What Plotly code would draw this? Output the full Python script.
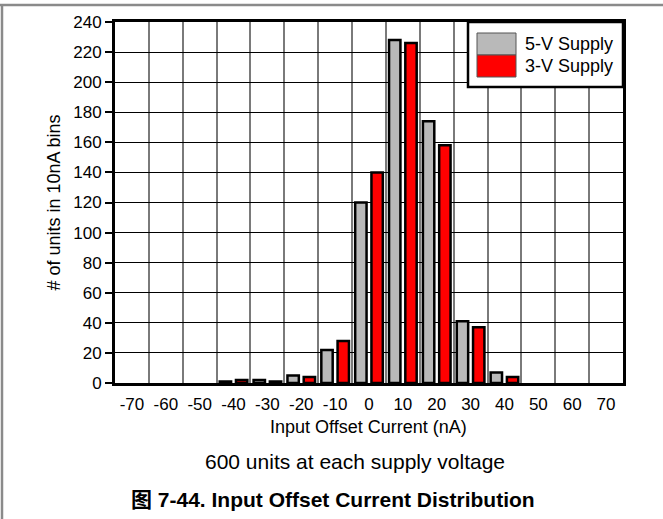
import plotly.graph_objects as go

# ---- data ----
bins_nA = [-70, -60, -50, -40, -30, -20, -10, 0, 10, 20, 30, 40, 50, 60, 70]
tick_labels = ["-70", "-60", "-50", "-40", "-30", "-20", "-10", "0", "10", "20", "30", "40", "50", "60", "70"]
supply_5v = [0, 0, 0, 1, 2, 5, 22, 120, 228, 174, 41, 7, 0, 0, 0]
supply_3v = [0, 0, 0, 2, 1, 4, 28, 140, 226, 158, 37, 4, 0, 0, 0]
series_names = ["5-V Supply", "3-V Supply"]
y_ticks = list(range(0, 241, 20))

GRAY = "#b9b9b9"
RED = "#ff0000"
FONT = "Liberation Sans, Arial, Noto Sans CJK SC, sans-serif"

# plot-area geometry in pixels (for positioning decorations)
W, H = 663, 519
L, R, T, B = 115, 623, 22, 383
PW, PH = R - L, B - T

def px(x):
    return (x - L) / PW

def py(y):
    return (B - y) / PH

half = (bins_nA[1] - bins_nA[0]) / 2
edges = [c - half for c in bins_nA] + [bins_nA[-1] + half]

def outline_widths(vals):
    return [0 if v == 0 else 2.5 for v in vals]

fig = go.Figure()
fig.add_trace(go.Bar(x=bins_nA, y=supply_5v, name=series_names[0],
                     marker=dict(color=GRAY, line=dict(color="black", width=outline_widths(supply_5v))),
                     showlegend=False))
fig.add_trace(go.Bar(x=bins_nA, y=supply_3v, name=series_names[1],
                     marker=dict(color=RED, line=dict(color="black", width=outline_widths(supply_3v))),
                     showlegend=False))

fig.update_layout(
    width=W, height=H,
    margin=dict(l=L, r=W - R, t=T, b=H - B),
    paper_bgcolor="white", plot_bgcolor="white",
    barmode="group", bargap=0.04, bargroupgap=0.3,
    font=dict(family=FONT, size=17, color="black"),
    showlegend=False,
)

fig.update_xaxes(
    range=[edges[0], edges[-1]],
    tickmode="array", tickvals=bins_nA, ticktext=tick_labels,
    showgrid=False, zeroline=False,
    showline=True, linecolor="black", linewidth=3, mirror=True,
    ticks="", ticklabelstandoff=4,
    tickfont=dict(size=17),
    minor=dict(tickmode="array", tickvals=edges, showgrid=True,
               gridcolor="#7a7a7a", gridwidth=1.5, ticks=""),
)
fig.update_yaxes(
    range=[0, 240], tickmode="array", tickvals=y_ticks,
    showgrid=True, gridcolor="black", gridwidth=1, zeroline=False,
    showline=True, linecolor="black", linewidth=3, mirror=True,
    ticks="outside", ticklen=7, tickwidth=1.5, tickcolor="black",
    tickfont=dict(size=17),
)

shapes = []
# legend box
shapes.append(dict(type="rect", xref="paper", yref="paper",
                   x0=px(468), x1=1.0, y0=py(87), y1=1.0,
                   fillcolor="white", line=dict(color="black", width=2.5), layer="above"))
shapes.append(dict(type="rect", xref="paper", yref="paper",
                   x0=px(477), x1=px(516), y0=py(55), y1=py(33),
                   fillcolor=GRAY, line=dict(color="#555555", width=1), layer="above"))
shapes.append(dict(type="rect", xref="paper", yref="paper",
                   x0=px(477), x1=px(516), y0=py(77), y1=py(55),
                   fillcolor=RED, line=dict(color="#555555", width=1), layer="above"))
# outer frame lines (top and left)
shapes.append(dict(type="line", xref="paper", yref="paper",
                   x0=px(0), x1=px(W), y0=py(5), y1=py(5),
                   line=dict(color="#8a8a8a", width=2.5), layer="above"))
shapes.append(dict(type="line", xref="paper", yref="paper",
                   x0=px(2), x1=px(2), y0=py(5), y1=py(H),
                   line=dict(color="#8a8a8a", width=2.5), layer="above"))
fig.update_layout(shapes=shapes)

ann = []
ann.append(dict(text=series_names[0], xref="paper", yref="paper", x=px(523), y=py(44),
                xanchor="left", yanchor="middle", showarrow=False, font=dict(size=18)))
ann.append(dict(text=series_names[1], xref="paper", yref="paper", x=px(523), y=py(66),
                xanchor="left", yanchor="middle", showarrow=False, font=dict(size=18)))
ann.append(dict(text="# of units in 10nA bins", xref="paper", yref="paper", x=px(53), y=0.5,
                xanchor="center", yanchor="middle", textangle=-90, showarrow=False,
                font=dict(size=18)))
ann.append(dict(text="Input Offset Current (nA)", xref="paper", yref="paper", x=px(368), y=py(427),
                xanchor="center", yanchor="middle", showarrow=False, font=dict(size=18)))
ann.append(dict(text="600 units at each supply voltage", xref="paper", yref="paper",
                x=px(355), y=py(462), xanchor="center", yanchor="middle", showarrow=False,
                font=dict(size=21)))
ann.append(dict(text="<b>图 7-44. Input Offset Current Distribution</b>", xref="paper", yref="paper",
                x=px(333), y=py(499), xanchor="center", yanchor="middle", showarrow=False,
                font=dict(size=21)))
fig.update_layout(annotations=ann)

fig.write_html("out.html",
               config={"displayModeBar": False},
               post_script="document.body.style.margin='0';document.body.style.padding='0';")
